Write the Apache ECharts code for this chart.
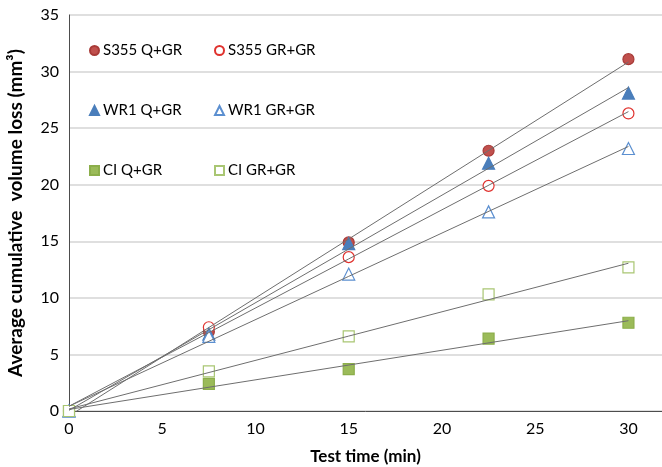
<!DOCTYPE html>
<html>
<head>
<meta charset="utf-8">
<script src="https://cdn.jsdelivr.net/npm/echarts@6/dist/echarts.min.js"></script>
<style>
html, body { margin: 0; padding: 0; background: #fff; }
#chart { width: 662px; height: 467px; }
</style>
</head>
<body>
<div id="chart"></div>
<script>
// test times (min)
var times = [0, 7.5, 15, 22.5, 30];
var seriesNames = ['S355 Q+GR', 'S355 GR+GR', 'WR1 Q+GR', 'WR1 GR+GR', 'CI Q+GR', 'CI GR+GR'];
// average cumulative volume loss (mm3)
var s355Q = [0, 7.0, 14.9, 23.0, 31.1];
var s355GR = [0, 7.4, 13.6, 19.9, 26.3];
var wr1Q = [0, 6.8, 14.8, 21.9, 28.1];
var wr1GR = [0, 6.6, 12.1, 17.6, 23.2];
var ciQ = [0, 2.4, 3.7, 6.4, 7.8];
var ciGR = [0, 3.5, 6.6, 10.3, 12.7];
var xTicks = [0, 5, 10, 15, 20, 25, 30];
var yTicks = [0, 5, 10, 15, 20, 25, 30, 35];

var values = [s355Q, s355GR, wr1Q, wr1GR, ciQ, ciGR];
var styles = [
    {symbol: 'circle', color: '#c0504d', border: '#a83a37'},
    {symbol: 'circle', color: '#ffffff', border: '#e0322e'},
    {symbol: 'triangle', color: '#4a7ebb', border: '#4a7ebb'},
    {symbol: 'triangle', color: '#ffffff', border: '#5b8fd0'},
    {symbol: 'rect', color: '#9bbb59', border: '#8cae4a'},
    {symbol: 'rect', color: '#ffffff', border: '#a9c673'}
];
// legend spots
var legendPos = [[89, 43], [214, 43], [89, 103], [214, 103], [89, 163], [214, 163]];

// least squares trend line
function trend(xs, ys) {
    var n = xs.length, mx = 0, my = 0, sxy = 0, sxx = 0;
    for (var i = 0; i < n; i++) { mx += xs[i] / n; my += ys[i] / n; }
    for (var j = 0; j < n; j++) {
        sxy += (xs[j] - mx) * (ys[j] - my);
        sxx += (xs[j] - mx) * (xs[j] - mx);
    }
    var k = sxy / sxx, b = my - k * mx;
    var x0 = xs[0], x1 = xs[n - 1];
    return [[x0, b + k * x0], [x1, b + k * x1]];
}

var font = 'Lato, "Open Sans", sans-serif';
var series = [];
var legends = [];
values.forEach(function (v, i) {
    series.push({
        name: seriesNames[i],
        type: 'scatter',
        symbol: styles[i].symbol,
        symbolSize: styles[i].symbol === 'triangle' ? 12 : 11,
        itemStyle: {color: styles[i].color, borderColor: styles[i].border, borderWidth: 1.2, opacity: 1},
        data: times.map(function (t, k) { return [t, v[k]]; }),
        z: 3
    });
    legends.push({
        left: legendPos[i][0],
        top: legendPos[i][1],
        padding: 0,
        itemWidth: 9,
        itemHeight: 9,
        itemGap: 0,
        textStyle: {fontSize: 15, color: '#000', fontFamily: font, padding: [0, 0, 0, -1]},
        data: [seriesNames[i]]
    });
});
values.forEach(function (v, i) {
    series.push({
        name: 'trend' + i,
        type: 'line',
        symbol: 'none',
        silent: true,
        lineStyle: {color: '#6e6e6e', width: 1},
        data: trend(times, v),
        z: 4
    });
});

var myChart = echarts.init(document.getElementById('chart'));
var option = {
    animation: false,
    legend: legends,
    grid: {left: 69, right: 0, top: 15, bottom: 56, outerBoundsMode: 'none', containLabel: false},
    xAxis: {
        type: 'value',
        min: 0,
        max: 31.8,
        interval: 5,
        name: 'Test time (min)',
        nameLocation: 'middle',
        nameGap: 37,
        nameTextStyle: {fontSize: 17, fontWeight: 'bold', color: '#000', fontFamily: font},
        axisLine: {lineStyle: {color: '#4d4d4d', width: 1}},
        axisTick: {show: false},
        splitLine: {show: false},
        axisLabel: {
            fontSize: 16, color: '#000', fontFamily: font, margin: 10,
            formatter: function (val) { return xTicks.indexOf(val) >= 0 ? String(val) : ''; }
        }
    },
    yAxis: {
        type: 'value',
        min: 0,
        max: 35,
        interval: 5,
        name: 'Average cumulative  volume loss (mm³)',
        nameLocation: 'middle',
        nameGap: 44,
        nameTextStyle: {fontSize: 19, fontWeight: 'bold', color: '#000', fontFamily: font},
        axisLine: {show: true, lineStyle: {color: '#4d4d4d', width: 1}},
        axisTick: {show: false},
        splitLine: {lineStyle: {color: '#d4d4d4', width: 1.5}},
        axisLabel: {
            fontSize: 16, color: '#000', fontFamily: font, margin: 10,
            formatter: function (val) { return yTicks.indexOf(val) >= 0 ? String(val) : ''; }
        }
    },
    series: series
};
myChart.setOption(option);
</script>
</body>
</html>
